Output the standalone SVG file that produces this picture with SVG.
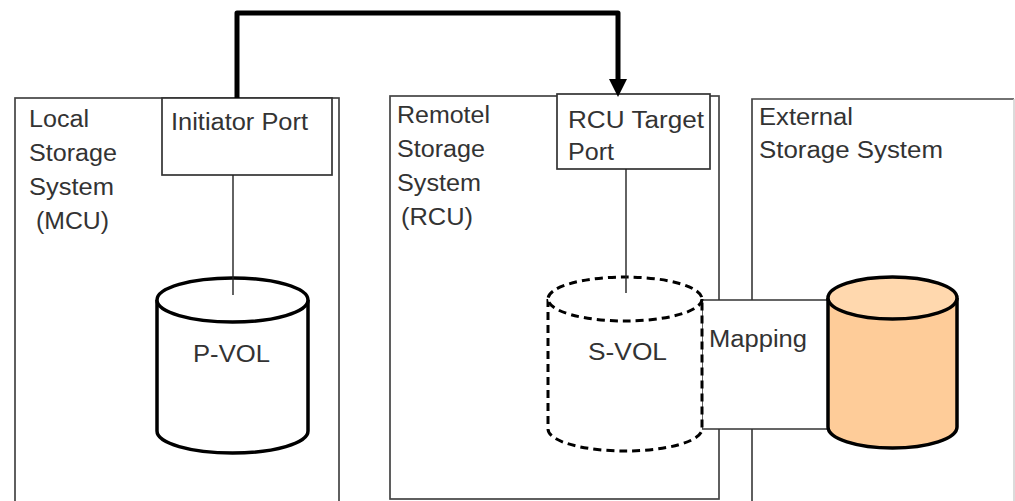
<svg xmlns="http://www.w3.org/2000/svg" width="1015" height="501" viewBox="0 0 1015 501">
<style>
.box{fill:#fff;stroke:#444;stroke-width:1.7}
.port{fill:#fff;stroke:#333;stroke-width:1.7}
.t{font-family:"Liberation Sans",Arial,sans-serif;font-size:23px;fill:#333}
.thin{stroke:#222;stroke-width:1.4;fill:none}
.cyl{stroke:#000;stroke-width:3.5}
.dash{stroke:#000;stroke-width:3;stroke-dasharray:8 5;fill:#fff}
</style>
<defs>
<marker id="arr" markerUnits="userSpaceOnUse" viewBox="0 0 18 18" markerWidth="18" markerHeight="18" refX="1" refY="9" orient="auto">
<path d="M0,0 L18,9 L0,18 z" fill="#000"/>
</marker>
</defs>
<rect width="1015" height="501" fill="#fff"/>

<g id="local-system">
<rect class="box" x="15" y="98" width="324" height="420"/>
<text class="t" x="29" y="127" textLength="60" lengthAdjust="spacingAndGlyphs">Local</text>
<text class="t" x="29" y="161" textLength="88" lengthAdjust="spacingAndGlyphs">Storage</text>
<text class="t" x="29" y="195" textLength="85" lengthAdjust="spacingAndGlyphs">System</text>
<text class="t" x="36" y="229" textLength="73" lengthAdjust="spacingAndGlyphs">(MCU)</text>
</g>

<g id="remote-system">
<rect class="box" x="390" y="96" width="329" height="403"/>
<text class="t" x="397" y="123" textLength="93" lengthAdjust="spacingAndGlyphs">Remotel</text>
<text class="t" x="397" y="157" textLength="88" lengthAdjust="spacingAndGlyphs">Storage</text>
<text class="t" x="397" y="191" textLength="84" lengthAdjust="spacingAndGlyphs">System</text>
<text class="t" x="401" y="225" textLength="72" lengthAdjust="spacingAndGlyphs">(RCU)</text>
</g>

<g id="external-system">
<path d="M752,501 L752,99 L1014,99" fill="none" stroke="#444" stroke-width="1.7"/>
<line x1="1014" y1="99" x2="1014" y2="501" stroke="#cfcfcf" stroke-width="1.5"/>
<text class="t" x="759" y="125" textLength="94" lengthAdjust="spacingAndGlyphs">External</text>
<text class="t" x="759" y="158" textLength="184" lengthAdjust="spacingAndGlyphs">Storage System</text>
</g>

<g id="initiator-port">
<rect class="port" x="162" y="98" width="170" height="77"/>
<text class="t" x="171" y="130" textLength="137" lengthAdjust="spacingAndGlyphs">Initiator Port</text>
</g>

<g id="rcu-target-port">
<rect class="port" x="557" y="94" width="153" height="75"/>
<text class="t" x="568" y="128" textLength="136" lengthAdjust="spacingAndGlyphs">RCU Target</text>
<text class="t" x="568" y="160" textLength="46" lengthAdjust="spacingAndGlyphs">Port</text>
</g>

<g id="mapping">
<rect x="702" y="300" width="126" height="129" fill="#fff" stroke="#333" stroke-width="1.5"/>
<text class="t" x="709" y="347" textLength="98" lengthAdjust="spacingAndGlyphs">Mapping</text>
</g>

<g id="p-vol">
<path class="cyl" d="M157,300 L157,431 A75.5,22 0 0 0 308,431 L308,300" fill="#fff"/>
<ellipse class="cyl" cx="232.5" cy="300" rx="75.5" ry="22" fill="#fff"/>
<text class="t" x="193" y="362" textLength="77" lengthAdjust="spacingAndGlyphs">P-VOL</text>
</g>

<g id="s-vol">
<path class="dash" d="M548,299 L548,429 A77,22 0 0 0 702,429 L702,299"/>
<ellipse class="dash" cx="625" cy="299" rx="77" ry="22"/>
<text class="t" x="588" y="360" textLength="79" lengthAdjust="spacingAndGlyphs">S-VOL</text>
</g>

<g id="external-volume">
<path class="cyl" stroke-width="3" d="M828,298 L828,427 A64.5,21 0 0 0 957,427 L957,298" fill="#FECC99"/>
<ellipse class="cyl" stroke-width="3" cx="892.5" cy="298" rx="64.5" ry="21" fill="#FFD8AE"/>
</g>

<g id="connectors">
<path d="M237,98 L237,13 L618,13 L618,80" fill="none" stroke="#000" stroke-width="5" stroke-linejoin="round" marker-end="url(#arr)"/>
<line class="thin" x1="233" y1="175" x2="233" y2="295"/>
<line class="thin" x1="626" y1="169" x2="626" y2="293"/>
</g>
</svg>
